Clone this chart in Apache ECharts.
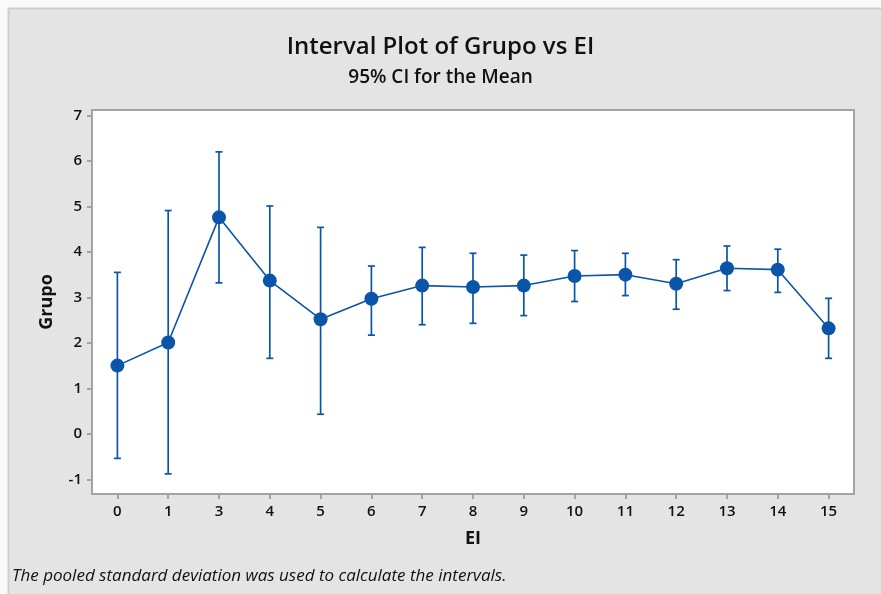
<!DOCTYPE html>
<html><head><meta charset="utf-8">
<script src="https://cdn.jsdelivr.net/npm/echarts@6/dist/echarts.min.js"></script>
<style>html,body{margin:0;padding:0;background:#fafafa;}#c{width:881px;height:594px;}</style>
</head><body><div id="c"></div>
<script>
var categories = ['0','1','3','4','5','6','7','8','9','10','11','12','13','14','15'];
var means = [1.50, 2.01, 4.76, 3.37, 2.52, 2.97, 3.26, 3.23, 3.26, 3.47, 3.50, 3.30, 3.64, 3.61, 2.32];
var upper = [3.55, 4.91, 6.20, 5.01, 4.54, 3.69, 4.10, 3.97, 3.93, 4.03, 3.97, 3.83, 4.13, 4.06, 2.98];
var lower = [-0.54, -0.88, 3.32, 1.66, 0.43, 2.17, 2.40, 2.43, 2.60, 2.91, 3.04, 2.74, 3.15, 3.11, 1.66];
var yTicks = [-1, 0, 1, 2, 3, 4, 5, 6, 7];

var blue = '#0a55a8';
var fontFam = '"Open Sans", "Noto Sans", sans-serif';
var chart = echarts.init(document.getElementById('c'));
var errData = categories.map(function(c, i){ return [i, lower[i], upper[i]]; });
chart.setOption({
  animation: false,
  backgroundColor: '#fafafa',
  graphic: [
    {type:'rect', z:-10, shape:{x:8.5,y:8.5,width:880,height:590}, style:{fill:'#e4e4e4', stroke:'#cdcdcd', lineWidth:2}},
    {type:'text', left:'center', top:35, style:{text:'Interval Plot of Grupo vs EI', font:'600 24px '+fontFam, fill:'#111'}},
    {type:'text', left:'center', top:68, style:{text:'95% CI for the Mean', font:'600 19px '+fontFam, fill:'#111'}},
    {type:'text', left:12, top:568, style:{text:'The pooled standard deviation was used to calculate the intervals.', font:'italic 17px '+fontFam, fill:'#111'}}
  ],
  grid: {left:92, right:27, top:110, bottom:100, show:true, backgroundColor:'#fff', borderColor:'#a3a3a3', borderWidth:2},
  xAxis: {
    type:'category', data:categories, boundaryGap:true,
    name:'EI', nameLocation:'middle', nameGap:36,
    nameTextStyle:{fontFamily:fontFam, fontWeight:'bold', fontSize:18, color:'#111'},
    axisLine:{show:false, onZero:false},
    axisTick:{show:true, alignWithLabel:true, length:5, lineStyle:{color:'#a3a3a3', width:2}},
    axisLabel:{fontFamily:fontFam, fontWeight:600, fontSize:15, color:'#111', margin:10},
    splitLine:{show:false}
  },
  yAxis: {
    type:'value', min:-1.323, max:7.121,
    name:'Grupo', nameLocation:'middle', nameGap:36, nameRotate:90,
    nameTextStyle:{fontFamily:fontFam, fontWeight:'bold', fontSize:18, color:'#111'},
    axisLine:{show:false, onZero:false},
    axisTick:{show:true, length:5, customValues:yTicks, lineStyle:{color:'#a3a3a3', width:2}},
    axisLabel:{fontFamily:fontFam, fontWeight:600, fontSize:15, color:'#111', margin:10, customValues:yTicks},
    splitLine:{show:false}
  },
  series: [
    {
      type:'custom', data:errData, z:2,
      renderItem:function(params, api){
        var x = api.coord([api.value(0), api.value(1)])[0];
        var lo = api.coord([api.value(0), api.value(1)])[1];
        var hi = api.coord([api.value(0), api.value(2)])[1];
        var w = 3.5;
        var st = {stroke:blue, lineWidth:1.7};
        return {type:'group', children:[
          {type:'line', shape:{x1:x,y1:lo,x2:x,y2:hi}, style:st},
          {type:'line', shape:{x1:x-w,y1:lo,x2:x+w,y2:lo}, style:st},
          {type:'line', shape:{x1:x-w,y1:hi,x2:x+w,y2:hi}, style:st}
        ]};
      }
    },
    {
      type:'line', data:means, z:3, symbol:'circle', symbolSize:14,
      lineStyle:{color:blue, width:1.6}, itemStyle:{color:blue}
    }
  ]
});
</script></body></html>
